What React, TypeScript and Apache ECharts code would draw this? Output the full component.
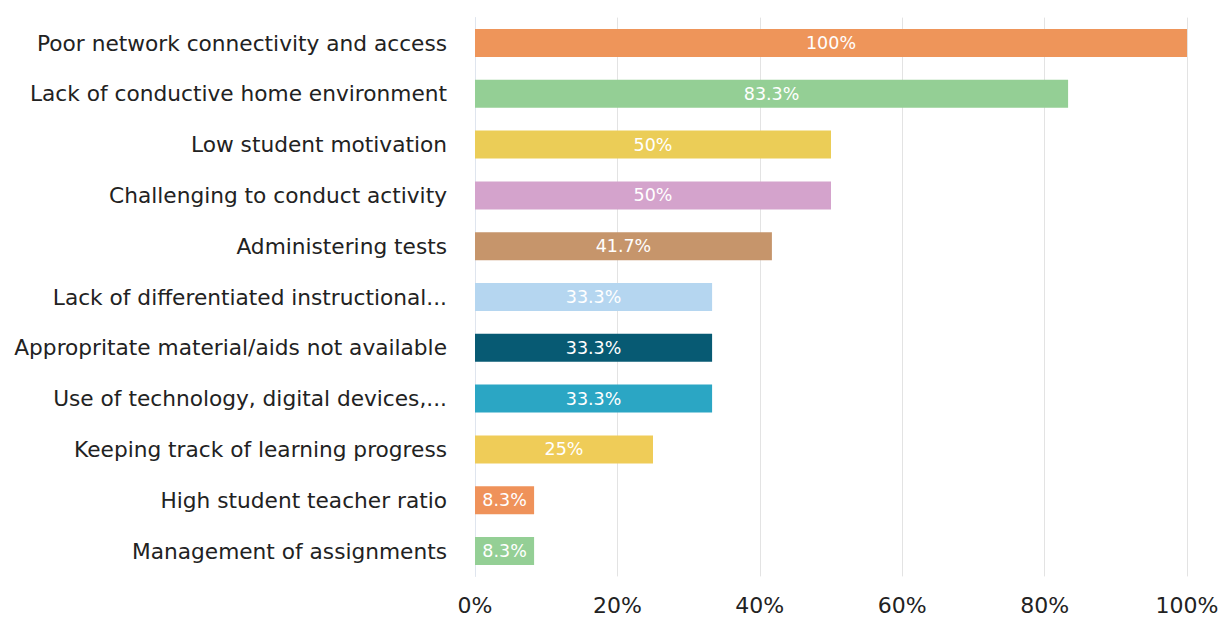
import React, { useEffect, useRef } from "react";
import * as echarts from "echarts";

const categories = [
  "Poor network connectivity and access",
  "Lack of conductive home environment",
  "Low student motivation",
  "Challenging to conduct activity",
  "Administering tests",
  "Lack of differentiated instructional...",
  "Appropritate material/aids not available",
  "Use of technology, digital devices,...",
  "Keeping track of learning progress",
  "High student teacher ratio",
  "Management of assignments",
];
const values = [100, 83.3, 50, 50, 41.7, 33.3, 33.3, 33.3, 25, 8.3, 8.3];
const barColors = [
  "#EE955A",
  "#94CF95",
  "#EBCD57",
  "#D4A3CC",
  "#C6956B",
  "#B5D6F0",
  "#075A73",
  "#2BA6C4",
  "#EFCC58",
  "#EF925A",
  "#94CF95",
];
const xTicks = [0, 20, 40, 60, 80, 100];

export default function App() {
  const ref = useRef<HTMLDivElement>(null);
  useEffect(() => {
    if (!ref.current) return;
    const chart = echarts.init(ref.current, undefined, { renderer: "svg" });
    chart.setOption({
      animation: false,
      backgroundColor: "#ffffff",
      textStyle: { fontFamily: "DejaVu Sans" },
      grid: { left: 475, right: 37, top: 17.6, bottom: 40.6, containLabel: false },
      xAxis: {
        type: "value",
        min: xTicks[0],
        max: xTicks[xTicks.length - 1],
        interval: 20,
        axisLine: { show: false },
        axisTick: { show: false },
        splitLine: { show: true, lineStyle: { color: "#e3e3e3", width: 1 } },
        axisLabel: {
          formatter: (v: number) => v + "%",
          fontSize: 22,
          color: "#222222",
          margin: 18,
          fontFamily: "DejaVu Sans",
        },
      },
      yAxis: {
        type: "category",
        data: categories,
        inverse: true,
        axisLine: { show: true, lineStyle: { color: "#dfe5ee", width: 1 } },
        axisTick: { show: false },
        axisLabel: {
          fontSize: 21.7,
          color: "#222222",
          margin: 28,
          fontFamily: "DejaVu Sans",
        },
      },
      series: [
        {
          type: "bar",
          barWidth: 28,
          data: values.map((v, i) => ({ value: v, itemStyle: { color: barColors[i] } })),
          label: {
            show: true,
            position: "inside",
            color: "#ffffff",
            fontSize: 17.5,
            fontFamily: "DejaVu Sans",
            formatter: (p: any) => p.value + "%",
          },
        },
      ],
    });
    return () => chart.dispose();
  }, []);
  return (
    <div
      ref={ref}
      style={{ position: "fixed", left: 0, top: 0, width: 1224, height: 617 }}
    />
  );
}
